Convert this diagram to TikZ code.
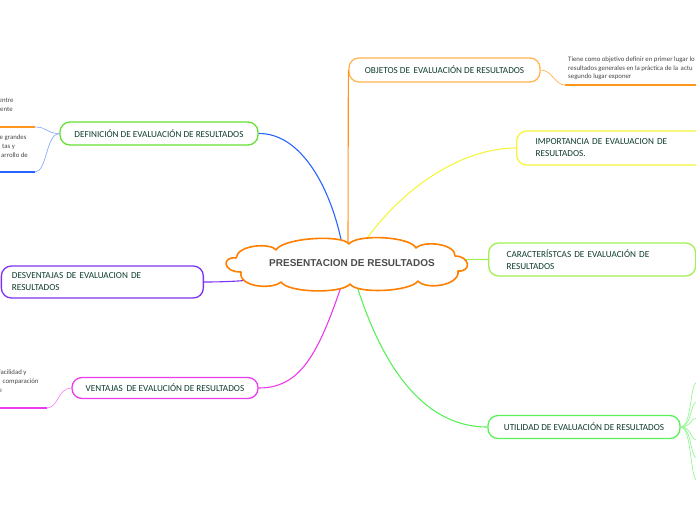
\documentclass[tikz,border=0pt]{standalone}
\usepackage{fontspec}
\setmainfont{Carlito}
\newfontfamily\arialfont{Liberation Sans}
\definecolor{txt}{RGB}{15,60,45}
\definecolor{notetxt}{RGB}{70,70,70}
\definecolor{cloudor}{RGB}{255,128,0}
\definecolor{objor}{RGB}{255,180,80}
\definecolor{linor}{RGB}{255,150,30}
\definecolor{yel}{RGB}{245,245,60}
\definecolor{chgreen}{RGB}{160,240,80}
\definecolor{utgreen}{RGB}{90,240,90}
\definecolor{defgreen}{RGB}{100,225,50}
\definecolor{blu}{RGB}{40,100,255}
\definecolor{lblu}{RGB}{140,170,255}
\definecolor{purp}{RGB}{125,50,245}
\definecolor{mag}{RGB}{235,60,235}
\definecolor{lmag}{RGB}{245,140,245}
\definecolor{lgreen}{RGB}{150,245,150}
\tikzset{
  box/.style={draw=#1, line width=1.3pt, rounded corners=10pt, fill=white, text=txt,
    font=\fontsize{9.2}{12}\selectfont, inner sep=0pt},
  conn/.style={draw=#1, line width=1.1pt},
  thinconn/.style={draw=#1, line width=0.7pt},
  uline/.style={draw=#1, line width=1.8pt},
  note/.style={font=\fontsize{6.8}{9}\selectfont, text=notetxt, align=left, inner sep=0pt, anchor=north west},
}
\begin{document}
\begin{tikzpicture}[x=1pt,y=-1pt]
\useasboundingbox (0,0) rectangle (696,520);
\clip (0,0) rectangle (696,520);

% connector start points on the cloud
\coordinate (cBlue) at (342,244);
\coordinate (cOr) at (348,244);
\coordinate (cYel) at (363,244);
\coordinate (cCh) at (462,260);
\coordinate (cUt) at (356,283);
\coordinate (cMag) at (342,284);
\coordinate (cPur) at (283,277);

% boxes
\node[box=objor, minimum width=191pt, minimum height=24pt] (obj) at (444.5,70) {OBJETOS DE\, EVALUACIÓN DE RESULTADOS};
\node[box=yel, text width=151pt, align=left, inner xsep=19pt, minimum height=34pt, anchor=west] (imp) at (516,148) {IMPORTANCIA DE EVALUACION DE\\RESULTADOS.};
\node[box=chgreen, text width=171pt, align=left, inner xsep=18pt, minimum height=33pt, anchor=west] (car) at (488,259.5) {CARACTERÍSTCAS DE EVALUACIÓN DE\\RESULTADOS};
\node[box=utgreen, minimum width=192pt, minimum height=23pt] (utl) at (584,427) {UTILIDAD DE EVALUACIÓN DE RESULTADOS};
\node[box=defgreen, minimum width=198pt, minimum height=23pt] (def) at (159,133.5) {DEFINICIÓN DE EVALUACIÓN DE RESULTADOS};
\node[box=purp, text width=181pt, align=left, inner xsep=10.5pt, minimum height=32pt, anchor=west] (des) at (0.7,282) {DESVENTAJAS DE EVALUACION DE\\RESULTADOS};
\node[box=mag, minimum width=186pt, minimum height=21pt] (ven) at (165,388) {VENTAJAS\, DE EVALUCIÓN DE RESULTADOS};

% central connectors
\draw[conn=blu] (def.east) .. controls (300,133) and (330,185) .. (cBlue);
\draw[conn=linor] (cOr) -- (obj.west);
\draw[conn=yel] (cYel) .. controls (400,190) and (460,148) .. (imp.west);
\draw[conn=chgreen] (cCh) .. controls (472,259) and (478,259.5) .. (car.west);
\draw[conn=utgreen] (cUt) .. controls (380,360) and (420,427) .. (utl.west);
\draw[conn=mag] (cMag) .. controls (318,355) and (300,388) .. (ven.east);
\draw[conn=purp] (des.east) .. controls (240,282) and (260,279) .. (cPur);

% central cloud
\draw[draw=cloudor, line width=1.6pt, fill=white, line join=round]
  (236,258) .. controls (238,244) and (272,243) .. (276,250)
  .. controls (282,238) and (342,234) .. (349,244)
  .. controls (356,234) and (410,236) .. (416,248)
  .. controls (424,240) and (456,244) .. (455,256)
  .. controls (470,256) and (472,272) .. (458,271)
  .. controls (460,286) and (425,290) .. (418,281)
  .. controls (410,292) and (356,294) .. (350,284)
  .. controls (342,294) and (288,293) .. (281,282)
  .. controls (272,290) and (238,287) .. (241,272)
  .. controls (222,272) and (222,256) .. (236,258) -- cycle;
\node[inner sep=0pt, text=black!70, font=\arialfont\bfseries\fontsize{10}{12}\selectfont] (ctr) at (352,263) {PRESENTACION DE RESULTADOS};

% objetos note
\coordinate (oU1) at (565,85);
\coordinate (oU2) at (700,85);
\draw[thinconn=objor] (obj.east) .. controls (552,70) and (555,85) .. (oU1);
\draw[uline=linor, line width=1.4pt] (oU1) -- (oU2);
\node[note, font=\fontsize{6.8}{8.6}\selectfont] (objnote) at (568,56.5) {Tiene como objetivo definir en primer lugar lo\\resultados generales en la práctica de la\, actu\\segundo lugar exponer};

% definicion notes
\coordinate (dU1) at (35,127);
\coordinate (dU1b) at (-2,127);
\coordinate (dU2) at (35,172);
\coordinate (dU2b) at (-2,172);
\draw[thinconn=lblu] (def.west) .. controls (46,133.5) and (48,127) .. (dU1);
\draw[thinconn=lblu] (def.west) .. controls (46,133.5) and (47,172) .. (dU2);
\draw[uline=linor] (dU1b) -- (dU1);
\draw[uline=blu] (dU2b) -- (dU2);
\node[note] (dn1) at (-1.5,97.5) {entre\\\hspace{1.5pt}ente};
\node[note] (dn2) at (-0.5,134.5) {e grandes\\\hspace{2.5pt}tas y\\\hspace{1.5pt}arrollo de};

% ventajas notes
\coordinate (vU) at (47,408);
\coordinate (vUb) at (-2,408);
\draw[thinconn=lmag] (ven.west) .. controls (58,388) and (58,408) .. (vU);
\draw[uline=mag] (vUb) -- (vU);
\node[note] (vn) at (-1.5,369.5) {facilidad y\\\hspace{4pt}comparación\\e};

% utilidad fan
\foreach \yy in {382,402,418,440,458,480}{
  \draw[thinconn=lgreen] (utl.east) .. controls (692,427) and (690,\yy) .. (697,\yy);
}
\end{tikzpicture}
\end{document}
